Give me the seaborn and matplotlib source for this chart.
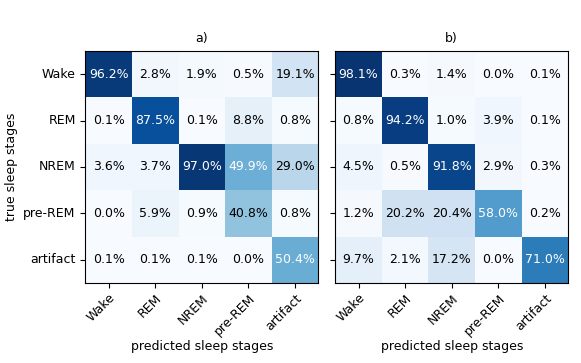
import numpy as np
import matplotlib
matplotlib.use("Agg")
import matplotlib.pyplot as plt
import seaborn as sns

STAGES = ["Wake", "REM", "NREM", "pre-REM", "artifact"]

# rows = true stage, cols = predicted stage (percent)
cm_a = [
    [96.2, 2.8, 1.9, 0.5, 19.1],
    [0.1, 87.5, 0.1, 8.8, 0.8],
    [3.6, 3.7, 97.0, 49.9, 29.0],
    [0.0, 5.9, 0.9, 40.8, 0.8],
    [0.1, 0.1, 0.1, 0.0, 50.4],
]
cm_b = [
    [98.1, 0.3, 1.4, 0.0, 0.1],
    [0.8, 94.2, 1.0, 3.9, 0.1],
    [4.5, 0.5, 91.8, 2.9, 0.3],
    [1.2, 20.2, 20.4, 58.0, 0.2],
    [9.7, 2.1, 17.2, 0.0, 71.0],
]
titles = ["a)", "b)"]
FS = 9

fig = plt.figure(figsize=(5.81, 3.63), dpi=100)
ax_a = fig.add_axes([0.147, 0.220, 0.401, 0.640])
ax_b = fig.add_axes([0.577, 0.220, 0.401, 0.640])

for ax, cm, title in zip([ax_a, ax_b], [cm_a, cm_b], titles):
    vals = np.array(cm)
    labels = np.array([[f"{v:.1f}%" for v in row] for row in cm])
    sns.heatmap(vals, ax=ax, cmap="Blues", vmin=0, vmax=100, cbar=False,
                annot=labels, fmt="", annot_kws={"fontsize": FS},
                xticklabels=STAGES, yticklabels=STAGES)
    # white text on dark cells, black elsewhere (half of the max, like the usual cm plot)
    thresh = vals.max() / 2
    for txt, v in zip(ax.texts, vals.ravel()):
        txt.set_color("white" if v > thresh else "black")
    for s in ax.spines.values():
        s.set_visible(True)
        s.set_color("black")
        s.set_linewidth(0.8)
    ax.tick_params(axis="both", length=3.5, width=0.8, labelsize=FS)
    ax.tick_params(axis="x", pad=2.5)
    plt.setp(ax.get_xticklabels(), rotation=45, ha="right", rotation_mode="anchor")
    ax.set_title(title, fontsize=FS)
    ax.set_xlabel("predicted sleep stages", fontsize=FS, labelpad=2)

ax_a.set_ylabel("true sleep stages", fontsize=FS)
plt.setp(ax_a.get_yticklabels(), rotation=0)
ax_b.set_yticklabels([])

fig.savefig("out.png", dpi=100)
